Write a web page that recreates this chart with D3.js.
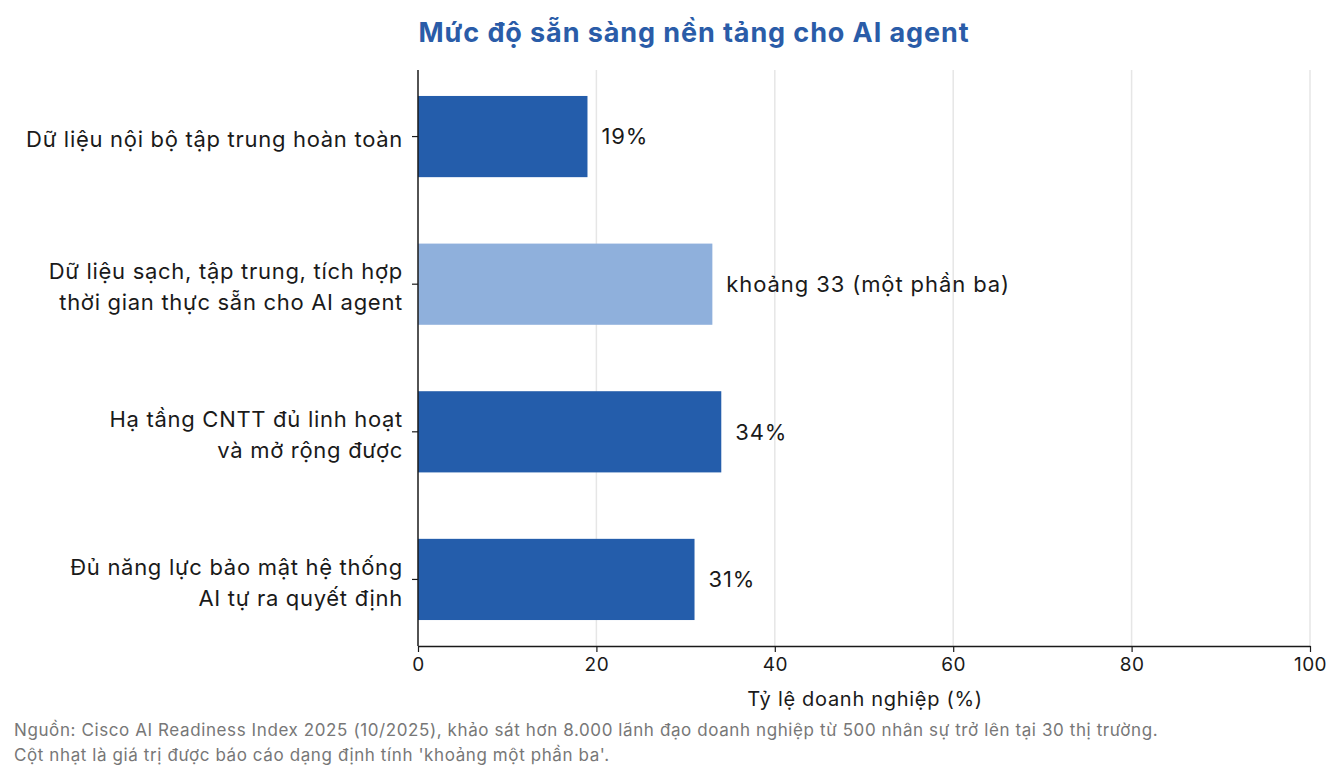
<!DOCTYPE html>
<html>
<head>
<meta charset="utf-8">
<script src="https://cdn.jsdelivr.net/npm/d3@7"></script>
<style>
  body { margin: 0; background: #fff; }
  text { font-family: Inter, "Noto Sans", sans-serif; }
</style>
</head>
<body>
<script>
// data
var categories = [
  ["Dữ liệu nội bộ tập trung hoàn toàn"],
  ["Dữ liệu sạch, tập trung, tích hợp", "thời gian thực sẵn cho AI agent"],
  ["Hạ tầng CNTT đủ linh hoạt", "và mở rộng được"],
  ["Đủ năng lực bảo mật hệ thống", "AI tự ra quyết định"]
];
var values = [19, 33, 34, 31];
var valueLabels = ["19%", "khoảng 33 (một phần ba)", "34%", "31%"];
var estimated = [false, true, false, false];
var xTicks = [0, 20, 40, 60, 80, 100];

var W = 1344, H = 779;
var mLeft = 418, mRight = 1310, mTop = 70, mBottom = 646;

var svg = d3.select("body").append("svg")
    .attr("width", W)
    .attr("height", H);

var x = d3.scaleLinear().domain([0, 100]).range([mLeft, mRight]);
var y = d3.scaleBand()
    .domain(d3.range(values.length))
    .range([62.75, 653.25])
    .paddingInner(0.45)
    .paddingOuter(0.225);

// title
svg.append("text")
    .attr("x", 694)
    .attr("y", 42)
    .attr("text-anchor", "middle")
    .style("font-size", "27px")
    .style("font-weight", "bold")
    .style("letter-spacing", "0.9px")
    .style("fill", "#2a5ca8")
    .text("Mức độ sẵn sàng nền tảng cho AI agent");

// grid
svg.append("g").selectAll("line")
    .data(xTicks.slice(1))
    .enter().append("line")
    .attr("x1", function(d) { return x(d); })
    .attr("x2", function(d) { return x(d); })
    .attr("y1", mTop)
    .attr("y2", mBottom)
    .style("stroke", "#e6e6e6")
    .style("stroke-width", 1.5);

// bars
svg.append("g").selectAll("rect")
    .data(values)
    .enter().append("rect")
    .attr("x", x(0))
    .attr("y", function(d, i) { return y(i); })
    .attr("width", function(d) { return x(d) - x(0); })
    .attr("height", y.bandwidth())
    .style("fill", function(d, i) { return estimated[i] ? "#8fb0dc" : "#245dab"; });

// value labels
svg.append("g").selectAll("text")
    .data(values)
    .enter().append("text")
    .attr("x", function(d) { return x(d) + 14; })
    .attr("y", function(d, i) { return y(i) + y.bandwidth() / 2; })
    .attr("dy", "0.35em")
    .style("font-size", "22px")
    .style("letter-spacing", "0.9px")
    .style("fill", "#1a1a1a")
    .text(function(d, i) { return valueLabels[i]; });

// x axis
var xAxis = svg.append("g")
    .attr("transform", "translate(0," + mBottom + ")")
    .call(d3.axisBottom(x).tickValues(xTicks).tickSize(6).tickPadding(6).tickSizeOuter(0));
xAxis.select(".domain").style("stroke", "#1a1a1a").style("stroke-width", 1.5);
xAxis.selectAll(".tick line").style("stroke", "#1a1a1a").style("stroke-width", 1.2);
xAxis.selectAll(".tick text")
    .style("font-size", "19px")
    .style("letter-spacing", "0.5px")
    .style("fill", "#1a1a1a")
    .style("font-family", "Inter, 'Noto Sans', sans-serif");

svg.append("text")
    .attr("x", x(50) + 1)
    .attr("y", 706)
    .attr("text-anchor", "middle")
    .style("font-size", "20px")
    .style("letter-spacing", "0.7px")
    .style("fill", "#1a1a1a")
    .text("Tỷ lệ doanh nghiệp (%)");

// y axis
svg.append("line")
    .attr("x1", mLeft).attr("x2", mLeft)
    .attr("y1", mTop).attr("y2", mBottom)
    .style("stroke", "#1a1a1a")
    .style("stroke-width", 1.5);

var yLabels = svg.append("g").selectAll("g")
    .data(categories)
    .enter().append("g")
    .attr("transform", function(d, i) { return "translate(0," + (y(i) + y.bandwidth() / 2) + ")"; });

yLabels.append("line")
    .attr("x1", mLeft - 6).attr("x2", mLeft)
    .style("stroke", "#1a1a1a")
    .style("stroke-width", 1.2);

yLabels.each(function(lines) {
    var g = d3.select(this);
    var lh = 31;
    var y0 = -(lines.length - 1) * lh / 2 + 3;
    lines.forEach(function(l, k) {
        g.append("text")
            .attr("x", 403)
            .attr("y", y0 + k * lh)
            .attr("dy", "0.35em")
            .attr("text-anchor", "end")
            .style("font-size", "22px")
            .style("letter-spacing", "0.7px")
            .style("fill", "#1a1a1a")
            .text(l);
    });
});

// footnote
var notes = [
  "Nguồn: Cisco AI Readiness Index 2025 (10/2025), khảo sát hơn 8.000 lãnh đạo doanh nghiệp từ 500 nhân sự trở lên tại 30 thị trường.",
  "Cột nhạt là giá trị được báo cáo dạng định tính 'khoảng một phần ba'."
];
svg.append("g").selectAll("text")
    .data(notes)
    .enter().append("text")
    .attr("x", 14)
    .attr("y", function(d, i) { return 736 + i * 25; })
    .style("font-size", "17px")
    .style("letter-spacing", "0.6px")
    .style("fill", "#777")
    .text(function(d) { return d; });
</script>
</body>
</html>
